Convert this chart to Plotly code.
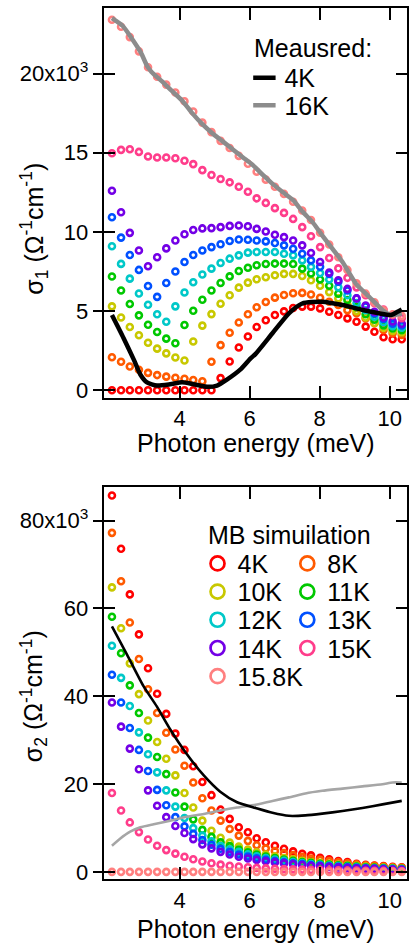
import plotly.graph_objects as go

# ---------------- data ----------------
energy_meV = [2.07, 2.33, 2.58, 2.84, 3.10, 3.36, 3.62, 3.88, 4.14, 4.39, 4.65,
              4.91, 5.17, 5.43, 5.69, 5.95, 6.20, 6.46, 6.72, 6.98, 7.24, 7.50,
              7.75, 8.01, 8.27, 8.53, 8.79, 9.05, 9.31, 9.56, 9.82, 10.08, 10.34]

temps = ["4K", "8K", "10K", "11K", "12K", "13K", "14K", "15K", "15.8K"]
colors = ["#ff0000", "#ff5a00", "#c8c800", "#00c800", "#00c8c8", "#0050ff",
          "#7300e6", "#ff3d8b", "#ff8080"]

# sigma_1 (x10^3 Ohm^-1 cm^-1), MB simulation
s1_4K = [0, 0, 0, 0, 0, 0, 0, 0, 0, 0, 0, 0, 0.77, 1.82, 2.7, 3.4, 4.0, 4.42,
         4.75, 4.98, 5.2, 5.28, 5.28, 5.17, 4.96, 4.75, 4.54, 4.33, 4.02, 3.7,
         3.35, 3.22, 3.22]
s1_8K = [2.09, 1.8, 1.5, 1.3, 1.1, 0.96, 0.86, 0.79, 0.73, 0.65, 0.57, 1.8,
         2.85, 3.63, 4.28, 4.8, 5.24, 5.57, 5.85, 6.02, 6.13, 6.15, 6.05, 5.84,
         5.59, 5.38, 5.06, 4.86, 4.54, 4.23, 3.81, 3.6, 3.5]
s1_10K = [5.3, 4.6, 4.0, 3.47, 3.0, 2.63, 2.33, 2.07, 1.88, 3.08, 4.08, 4.81,
          5.46, 6.0, 6.48, 6.8, 7.01, 7.14, 7.26, 7.35, 7.35, 7.22, 6.95, 6.6,
          6.2, 5.8, 5.4, 5.0, 4.6, 4.25, 3.95, 3.75, 3.65]
s1_11K = [7.18, 6.3, 5.45, 4.73, 4.14, 3.68, 3.26, 2.97, 4.12, 5.02, 5.72, 6.3,
          6.77, 7.19, 7.53, 7.74, 7.89, 7.97, 8.0, 8.0, 7.97, 7.68, 7.37, 7.0,
          6.6, 6.1, 5.7, 5.25, 4.8, 4.45, 4.1, 3.9, 3.8]
s1_12K = [9.09, 7.98, 7.05, 6.11, 5.4, 4.8, 4.33, 5.3, 6.17, 6.82, 7.31, 7.68,
          8.04, 8.31, 8.52, 8.69, 8.73, 8.73, 8.73, 8.62, 8.52, 8.2, 7.79, 7.4,
          7.0, 6.5, 6.0, 5.5, 5.05, 4.65, 4.3, 4.05, 3.95]
s1_13K = [10.93, 9.64, 8.54, 7.6, 6.58, 5.9, 6.77, 7.5, 8.1, 8.54, 8.83, 9.04,
          9.22, 9.43, 9.52, 9.5, 9.46, 9.4, 9.3, 9.15, 8.94, 8.62, 8.2, 7.8,
          7.35, 6.85, 6.3, 5.8, 5.3, 4.85, 4.5, 4.2, 4.1]
s1_14K = [12.6, 11.24, 9.94, 8.83, 7.83, 8.4, 8.96, 9.46, 9.85, 10.12, 10.22,
          10.24, 10.3, 10.38, 10.4, 10.36, 10.19, 10.03, 9.82, 9.67, 9.46, 9.15,
          8.67, 8.1, 7.43, 6.95, 6.4, 5.8, 5.35, 4.95, 4.6, 4.35, 4.2]
s1_15K = [14.97, 15.18, 15.22, 15.05, 14.76, 14.7, 14.7, 14.65, 14.49, 14.28,
          13.9, 13.59, 13.34, 13.13, 12.85, 12.54, 12.12, 11.83, 11.5, 11.2,
          10.82, 10.3, 9.73, 9.04, 8.35, 7.7, 7.1, 6.5, 6.0, 5.5, 5.1, 4.75, 4.55]
s1_15p8K = [23.4, 22.95, 22.3, 21.4, 20.4, 19.8, 19.3, 18.8, 18.25, 17.6, 16.9,
            16.3, 15.75, 15.3, 14.8, 14.3, 13.8, 13.3, 12.85, 12.4, 11.9, 11.35,
            10.75, 9.95, 9.2, 8.4, 7.6, 6.75, 6.1, 5.55, 5.05, 4.8, 4.7]

# sigma_2 (x10^3 Ohm^-1 cm^-1), MB simulation
s2_4K = [85.7, 73.6, 63.2, 54.1, 46.4, 40.6, 36.0, 31.5, 27.8, 24.1, 20.5, 17.5,
         14.2, 12.1, 10.2, 9.06, 7.7, 6.8, 6.0, 5.3, 4.7, 4.16, 3.8, 3.25, 2.9,
         2.5, 2.27, 1.9, 1.67, 1.5, 1.37, 1.2, 1.06]
s2_8K = [77.2, 66.2, 56.8, 48.5, 41.6, 36.2, 31.7, 27.9, 24.2, 20.4, 16.8, 14.0,
         11.7, 9.8, 8.3, 7.1, 6.1, 5.4, 4.8, 4.3, 3.85, 3.45, 3.1, 2.8, 2.5, 2.2,
         2.0, 1.75, 1.55, 1.4, 1.25, 1.1, 1.0]
s2_10K = [64.8, 55.5, 47.5, 40.5, 34.5, 29.6, 25.8, 22.0, 18.0, 14.7, 11.7, 9.4,
          7.8, 6.7, 5.8, 5.1, 4.5, 4.0, 3.6, 3.2, 2.9, 2.6, 2.35, 2.1, 1.9, 1.7,
          1.55, 1.4, 1.25, 1.1, 1.0, 0.9, 0.82]
s2_11K = [58.1, 49.8, 42.5, 36.2, 30.6, 26.2, 22.3, 18.1, 14.9, 12.0, 9.6, 8.0,
          6.8, 5.9, 5.1, 4.5, 4.0, 3.55, 3.2, 2.85, 2.55, 2.3, 2.1, 1.9, 1.7,
          1.55, 1.4, 1.25, 1.1, 1.0, 0.9, 0.8, 0.72]
s2_12K = [51.5, 44.2, 37.8, 31.8, 26.8, 22.7, 18.6, 14.9, 12.3, 10.0, 8.3, 7.0,
          6.0, 5.2, 4.6, 4.05, 3.6, 3.2, 2.85, 2.55, 2.3, 2.05, 1.85, 1.65, 1.5,
          1.35, 1.2, 1.1, 0.98, 0.88, 0.8, 0.72, 0.65]
s2_13K = [44.9, 38.6, 32.8, 27.8, 23.0, 18.7, 15.2, 12.5, 10.4, 8.7, 7.3, 6.2,
          5.3, 4.6, 4.0, 3.55, 3.15, 2.8, 2.5, 2.25, 2.0, 1.8, 1.62, 1.46, 1.32,
          1.2, 1.08, 0.98, 0.88, 0.8, 0.72, 0.65, 0.6]
s2_14K = [38.6, 33.1, 28.1, 23.4, 18.6, 15.1, 12.5, 10.5, 8.9, 7.5, 6.3, 5.4,
          4.6, 4.0, 3.5, 3.1, 2.75, 2.45, 2.2, 1.97, 1.77, 1.6, 1.44, 1.3, 1.18,
          1.07, 0.97, 0.88, 0.8, 0.72, 0.65, 0.59, 0.54]
s2_15K = [18.0, 14.0, 11.3, 9.1, 7.4, 6.0, 5.0, 4.2, 3.5, 2.9, 2.4, 2.0, 1.7,
          1.45, 1.25, 1.1, 0.95, 0.85, 0.76, 0.68, 0.61, 0.55, 0.5, 0.45, 0.41,
          0.38, 0.35, 0.32, 0.3, 0.28, 0.26, 0.24, 0.22]
s2_15p8K = [0.05, 0.05, 0.05, 0.05, 0.05, 0.05, 0.05, 0.05, 0.05, 0.05, 0.05,
            0.05, 0.05, 0.05, 0.05, 0.05, 0.05, 0.05, 0.05, 0.05, 0.05, 0.05,
            0.05, 0.05, 0.05, 0.05, 0.05, 0.05, 0.05, 0.05, 0.05, 0.05, 0.05]

# measured curves
meas1_4K_E = [2.07, 2.4, 2.69, 2.88, 3.07, 3.35, 3.73, 4.07, 4.4, 4.78, 5.07,
              5.35, 5.73, 6.02, 6.17, 6.65, 7.12, 7.5, 8.07, 8.65, 9.22, 9.69,
              10.03, 10.22, 10.34]
meas1_4K = [4.75, 3.3, 1.95, 1.0, 0.5, 0.3, 0.38, 0.5, 0.38, 0.22, 0.3, 0.67,
            1.3, 2.0, 2.3, 3.6, 4.86, 5.48, 5.59, 5.38, 5.07, 4.86, 4.75, 4.96,
            5.1]
meas1_16K_E = [2.07, 2.38, 2.67, 2.9, 3.08, 3.2, 3.5, 3.78, 4.07, 4.36, 4.65,
               4.95, 5.24, 5.52, 5.81, 6.1, 6.4, 6.67, 6.95, 7.24, 7.52, 7.8,
               8.07, 8.36, 8.65, 9.03, 9.41, 9.79, 10.03, 10.34]
meas1_16K = [23.5, 23.0, 22.1, 21.3, 20.45, 20.1, 19.5, 18.9, 18.3, 17.5, 16.8,
             16.2, 15.7, 15.2, 14.7, 14.2, 13.55, 13.0, 12.5, 12.0, 11.25, 10.6,
             9.78, 8.94, 8.1, 6.74, 5.9, 5.07, 4.75, 4.85]

meas2_4K_E = [2.07, 2.5, 2.97, 3.35, 3.73, 4.21, 4.69, 5.16, 5.64, 6.17, 6.65,
              7.12, 7.59, 8.07, 8.65, 9.22, 9.79, 10.34]
meas2_4K = [55.9, 49.5, 42.3, 37.7, 32.5, 26.8, 22.0, 18.3, 15.9, 14.6, 13.5,
            12.8, 12.9, 13.3, 13.9, 14.6, 15.4, 16.2]
meas2_16K_E = [2.07, 2.3, 2.59, 2.88, 3.26, 3.73, 4.21, 4.69, 5.16, 5.64, 6.17,
               6.65, 7.12, 7.59, 8.07, 8.65, 9.22, 9.79, 10.08, 10.34]
meas2_16K = [6.0, 7.6, 9.2, 10.2, 10.9, 11.7, 12.6, 13.2, 14.0, 14.7, 15.3, 16.2,
             17.0, 17.9, 18.5, 19.0, 19.5, 20.0, 20.4, 20.4]

x_ticks = [4, 6, 8, 10]
y1_ticks = [0, 5, 10, 15, 20]
y1_labels = ["0", "5", "10", "15", "20x10<sup>3</sup>"]
y2_ticks = [0, 20, 40, 60, 80]
y2_labels = ["0", "20", "40", "60", "80x10<sup>3</sup>"]

sigma1 = [s1_4K, s1_8K, s1_10K, s1_11K, s1_12K, s1_13K, s1_14K, s1_15K, s1_15p8K]
sigma2 = [s2_4K, s2_8K, s2_10K, s2_11K, s2_12K, s2_13K, s2_14K, s2_15K, s2_15p8K]

# ---------------- layout helpers ----------------
W, H = 409, 944
FONT = "Liberation Sans, Arial, Helvetica, sans-serif"


def fx(p):
    return p / W


def fy(p):
    return 1 - p / H


fig = go.Figure()

# simulations
for t, c, s1, s2 in zip(temps, colors, sigma1, sigma2):
    mk = dict(symbol="circle-open", size=6, color=c, line=dict(width=2.6))
    fig.add_trace(go.Scatter(x=energy_meV, y=s1, mode="markers", marker=mk,
                             showlegend=False, xaxis="x", yaxis="y", name=t))
    fig.add_trace(go.Scatter(x=energy_meV, y=s2, mode="markers", marker=mk,
                             showlegend=False, xaxis="x2", yaxis="y2", name=t))

# measured
fig.add_trace(go.Scatter(x=meas1_16K_E, y=meas1_16K, mode="lines",
                         line=dict(color="#8c8c8c", width=4.5, shape="spline", smoothing=0.6),
                         showlegend=False, xaxis="x", yaxis="y"))
fig.add_trace(go.Scatter(x=meas1_4K_E, y=meas1_4K, mode="lines",
                         line=dict(color="black", width=4.5, shape="spline", smoothing=0.6),
                         showlegend=False, xaxis="x", yaxis="y"))
fig.add_trace(go.Scatter(x=meas2_16K_E, y=meas2_16K, mode="lines",
                         line=dict(color="#a6a6a6", width=2.6, shape="spline", smoothing=0.6),
                         showlegend=False, xaxis="x2", yaxis="y2"))
fig.add_trace(go.Scatter(x=meas2_4K_E, y=meas2_4K, mode="lines",
                         line=dict(color="black", width=2.6, shape="spline", smoothing=0.6),
                         showlegend=False, xaxis="x2", yaxis="y2"))

# dummy traces for the overlay (inner tick) axes
fig.add_trace(go.Scatter(x=[None], y=[None], xaxis="x", yaxis="y3", showlegend=False, hoverinfo="skip"))
fig.add_trace(go.Scatter(x=[None], y=[None], xaxis="x2", yaxis="y4", showlegend=False, hoverinfo="skip"))

# legends (one legend per entry so positions can be placed exactly)
legends = {}
meas_entries = [("4K", "black", 78.3), ("16K", "#8c8c8c", 106)]
for i, (nm, col, cy) in enumerate(meas_entries):
    key = "legend" if i == 0 else f"legend{i + 1}"
    fig.add_trace(go.Scatter(x=[None], y=[None], mode="markers", name=nm,
                             marker=dict(symbol="line-ew", size=16, color=col,
                                         line=dict(width=4.5, color=col)),
                             legend=key, xaxis="x", yaxis="y"))
    legends[key] = dict(x=fx(265 - 20), y=fy(cy))

col_cx = [218, 308]
row_cy = [566.7, 595, 623.3, 651.7, 680]
for k, (t, c) in enumerate(zip(temps, colors)):
    key = f"legend{k + 3}"
    fig.add_trace(go.Scatter(x=[None], y=[None], mode="markers", name=t,
                             marker=dict(symbol="circle-open", size=14, color=c,
                                         line=dict(width=2.7)),
                             legend=key, xaxis="x2", yaxis="y2"))
    legends[key] = dict(x=fx(col_cx[k % 2] - 20), y=fy(row_cy[k // 2]))

for key, pos in legends.items():
    pos.update(xanchor="left", yanchor="middle", bgcolor="rgba(0,0,0,0)",
               borderwidth=0, font=dict(family=FONT, size=25, color="black"),
               itemwidth=30, tracegroupgap=0)

xdom = [fx(104), fx(408)]
top_dom = [fy(400), fy(8)]
bot_dom = [fy(884), fy(490)]
xr = [1.836, 10.49]
y1r = [-0.48, 24.14]
y2r = [-1.65, 87.55]

tickfont = dict(family=FONT, size=22, color="black")
xcommon = dict(range=xr, domain=xdom, showline=True, linewidth=2, linecolor="black",
               mirror="ticks", ticks="inside", ticklen=12, tickwidth=2,
               tickcolor="black", tickvals=x_ticks, showgrid=False, zeroline=False,
               tickfont=tickfont)
ycommon = dict(showline=True, linewidth=2, linecolor="black", mirror=True,
               ticks="outside", ticklen=9, tickwidth=2, tickcolor="black",
               showgrid=False, zeroline=False, tickfont=tickfont)
yinner = dict(showline=False, ticks="inside", ticklen=11, tickwidth=2,
              tickcolor="black", mirror="ticks", showticklabels=False,
              showgrid=False, zeroline=False, side="left")

annotations = [
    dict(text="Photon energy (meV)", x=fx(256.5), y=fy(445), xref="paper", yref="paper",
         xanchor="center", yanchor="middle", showarrow=False,
         font=dict(family=FONT, size=25, color="black")),
    dict(text="Photon energy (meV)", x=fx(256.5), y=fy(934), xref="paper", yref="paper",
         xanchor="center", yanchor="middle", showarrow=False,
         font=dict(family=FONT, size=25, color="black")),
    dict(text="σ<sub>1</sub> (Ω<sup>-1</sup>cm<sup>-1</sup>)", x=fx(34), y=fy(230),
         xref="paper", yref="paper", xanchor="center", yanchor="middle",
         textangle=-90, showarrow=False, font=dict(family=FONT, size=25, color="black")),
    dict(text="σ<sub>2</sub> (Ω<sup>-1</sup>cm<sup>-1</sup>)", x=fx(34), y=fy(700),
         xref="paper", yref="paper", xanchor="center", yanchor="middle",
         textangle=-90, showarrow=False, font=dict(family=FONT, size=25, color="black")),
    dict(text="Meausred:", x=fx(253), y=fy(48.3), xref="paper", yref="paper",
         xanchor="left", yanchor="middle", showarrow=False,
         font=dict(family=FONT, size=25, color="black")),
    dict(text="MB simuilation", x=fx(206.5), y=fy(538.3), xref="paper", yref="paper",
         xanchor="left", yanchor="middle", showarrow=False,
         font=dict(family=FONT, size=25, color="black")),
]

fig.update_layout(
    width=W, height=H, autosize=False,
    margin=dict(l=0, r=0, t=0, b=0),
    paper_bgcolor="white", plot_bgcolor="white",
    font=dict(family=FONT, color="black"),
    xaxis=dict(anchor="y", **xcommon),
    xaxis2=dict(anchor="y2", **xcommon),
    yaxis=dict(anchor="x", domain=top_dom, range=y1r, tickvals=y1_ticks,
               ticktext=y1_labels, **ycommon),
    yaxis2=dict(anchor="x2", domain=bot_dom, range=y2r, tickvals=y2_ticks,
                ticktext=y2_labels, **ycommon),
    yaxis3=dict(overlaying="y", anchor="x", range=y1r, tickvals=y1_ticks, **yinner),
    yaxis4=dict(overlaying="y2", anchor="x2", range=y2r, tickvals=y2_ticks, **yinner),
    annotations=annotations,
    **legends,
)

fig.write_html(
    "out.html",
    config={"displayModeBar": False},
    post_script="document.body.style.margin='0';document.body.style.padding='0';"
                "document.body.style.overflow='hidden';",
)
